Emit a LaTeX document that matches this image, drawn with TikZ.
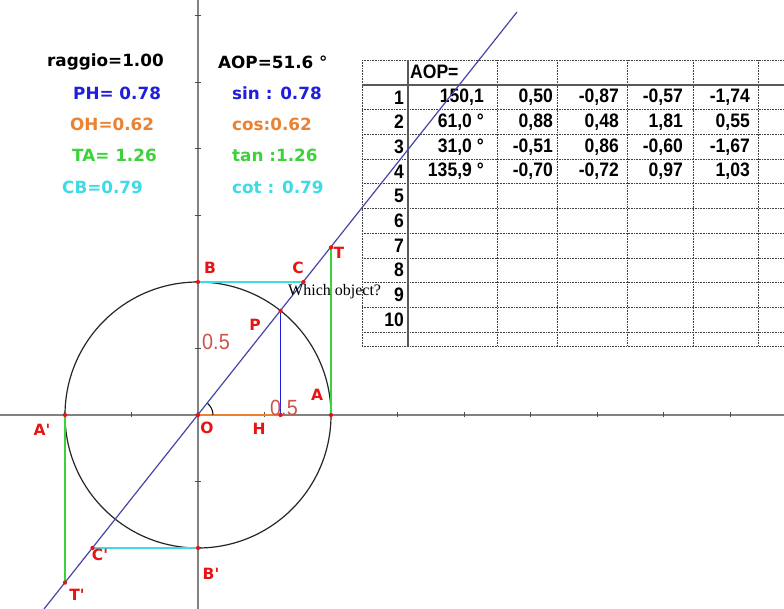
\documentclass[tikz,border=0pt]{standalone}
\usepackage{fontspec}
\usetikzlibrary{positioning,arrows.meta,calc}
\newfontfamily\verd{DejaVu Sans}
\newfontfamily\tabf{Liberation Sans}[FakeStretch=0.9]
\newfontfamily\tipf{Liberation Serif}
\newcommand{\infofont}{\verd\bfseries\fontsize{16.8}{18}\selectfont}
\newcommand{\cellfont}{\tabf\bfseries\fontsize{19.5}{20}\selectfont}
\definecolor{lineblue}{RGB}{70,70,170}
\definecolor{phblue}{RGB}{30,30,220}
\definecolor{ohorange}{RGB}{235,130,50}
\definecolor{tagreen}{RGB}{60,210,60}
\definecolor{cbcyan}{RGB}{60,220,230}
\definecolor{ptred}{RGB}{230,20,20}
\definecolor{halfred}{RGB}{205,85,75}
\definecolor{axisgray}{RGB}{130,130,130}
\tikzset{
  dot/.style={circle, fill=ptred, inner sep=1.5pt},
  ptlabel/.style={text=ptred, font=\verd\bfseries\fontsize{15.5}{16}\selectfont, inner sep=0pt},
  info/.style={font=\infofont, anchor=west, inner sep=0pt},
  cell/.style={font=\cellfont, anchor=east, inner sep=0pt},
  half/.style={text=halfred, font=\tabf\fontsize{22}{22}\selectfont, inner sep=0pt},
  grid/.style={densely dotted, gray!50!black, line width=0.6pt},
  thickgrid/.style={gray!70!black, line width=1.8pt}
}
\begin{document}
\begin{tikzpicture}[x=1pt, y=1pt, >=Stealth]
  \useasboundingbox[fill=white] (-198,-194) rectangle (586,415);
  % axes
  \draw[axisgray, line width=1.1pt] (-198,0) -- (586,0);
  \draw[axisgray, line width=1.1pt] (0,-194) -- (0,415);
  \foreach \i in {-2,...,8}
    \draw[black!70, line width=1pt] (66.5*\i,-2.5) -- (66.5*\i,2.5);
  \foreach \j in {-2,...,6}
    \draw[black!70, line width=1pt] (-2.5,66.5*\j) -- (2.5,66.5*\j);

  % points
  \coordinate (O) at (0,0);
  \coordinate (A) at (133,0);
  \coordinate (A') at (-133,0);
  \coordinate (B) at (0,133);
  \coordinate (B') at (0,-133);
  \coordinate (P) at (82.6,104.2);
  \coordinate (H) at (82.6,0);
  \coordinate (C) at (105.5,133);
  \coordinate (T) at (133,167.6);
  \coordinate (C') at (-105.5,-133);
  \coordinate (T') at (-133,-167.6);
  \coordinate (l1) at (-154,-194);
  \coordinate (l2) at (319,403);

  \draw[black!85, line width=1.2pt] (O) circle[radius=133];
  \draw[ohorange, line width=1.5pt] (O) -- (H);
  \draw[phblue, line width=1.5pt] (P) -- (H);
  \draw[tagreen, line width=1.5pt] (A) -- (T);
  \draw[tagreen, line width=1.5pt] (A') -- (T');
  \draw[cbcyan, line width=1.5pt] (B) -- (C);
  \draw[cbcyan, line width=1.5pt] (B') -- (C');
  \draw[black, line width=1pt] (15,0) arc[start angle=0, end angle=51.6, radius=15];

  \node[half] (h1) at (18,73) {0.5};
  \node[half] (h2) at (86,7) {0.5};

  % table
  \foreach \x in {164,299,359,429,495,560}
    \draw[grid] (\x,355) -- (\x,69);
  \foreach \k in {0,...,10}
    \draw[grid] (164,330-24.7*\k) -- (586,330-24.7*\k);
  \draw[grid] (164,355) -- (586,355);
  \draw[grid] (164,69) -- (586,69);
  \draw[thickgrid] (164,330) -- (586,330);
  \draw[thickgrid] (210,355) -- (210,69);
  \node[font=\cellfont, anchor=west, inner sep=0pt] (hd) at (212,343) {AOP=};
  \foreach \k in {1,...,10}
    \node[cell] (n\k) at (206,342.35-24.7*\k) {\k};
  \foreach \a/\b/\c/\d/\e [count=\r] in {
      150{,}1/0{,}50/-0{,}87/-0{,}57/-1{,}74,
      61{,}0 °/0{,}88/0{,}48/1{,}81/0{,}55,
      31{,}0 °/-0{,}51/0{,}86/-0{,}60/-1{,}67,
      135{,}9 °/-0{,}70/-0{,}72/0{,}97/1{,}03} {
    \node[cell] (c\r a) at (286,342.35-24.7*\r) {\a};
    \node[cell] (c\r b) at (355,342.35-24.7*\r) {\b};
    \node[cell] (c\r c) at (421,342.35-24.7*\r) {\c};
    \node[cell] (c\r d) at (485,342.35-24.7*\r) {\d};
    \node[cell] (c\r e) at (552,342.35-24.7*\r) {\e};
  }

  \draw[lineblue, line width=1.2pt] (l1) -- (l2);

  \foreach \p in {O,A,A',B,B',P,H,C,T,C',T'}
    \node[dot] (d\p) at (\p) {};

  \node[ptlabel] (lB)  at (12,147)    {B};
  \node[ptlabel] (lC)  at (100,147)   {C};
  \node[ptlabel] (lT)  at (141,162)   {T};
  \node[ptlabel] (lP)  at (57,90)     {P};
  \node[ptlabel] (lA)  at (119,20)    {A};
  \node[ptlabel] (lO)  at (9,-13)     {O};
  \node[ptlabel] (lH)  at (61,-14)    {H};
  \node[ptlabel] (lA') at (-156,-15)  {A'};
  \node[ptlabel] (lC') at (-98,-140)  {C'};
  \node[ptlabel] (lB') at (13,-159)   {B'};
  \node[ptlabel] (lT') at (-121,-180) {T'};

  % readouts
  \node[info] (rad) at (-151,353)           {raggio=1.00};
  \node[info, text=phblue] (ph) at (-125,322)   {PH= 0.78};
  \node[info, text=ohorange] (oh) at (-128,291) {OH=0.62};
  \node[info, text=tagreen] (ta) at (-126,260)  {TA= 1.26};
  \node[info, text=cbcyan] (cb) at (-136,228)   {CB=0.79};
  \node[info] (aop) at (20,353)             {AOP=51.6 °};
  \node[info, text=phblue] (sn) at (34,322)     {sin : 0.78};
  \node[info, text=ohorange] (cs) at (34,291)   {cos:0.62};
  \node[info, text=tagreen] (tn) at (34,260)    {tan :1.26};
  \node[info, text=cbcyan] (ct) at (34,228)     {cot : 0.79};

  \node[font=\tipf\fontsize{16}{17}\selectfont, anchor=west, inner sep=0pt] (tip) at (90,123) {Which object?};
\end{tikzpicture}
\end{document}
